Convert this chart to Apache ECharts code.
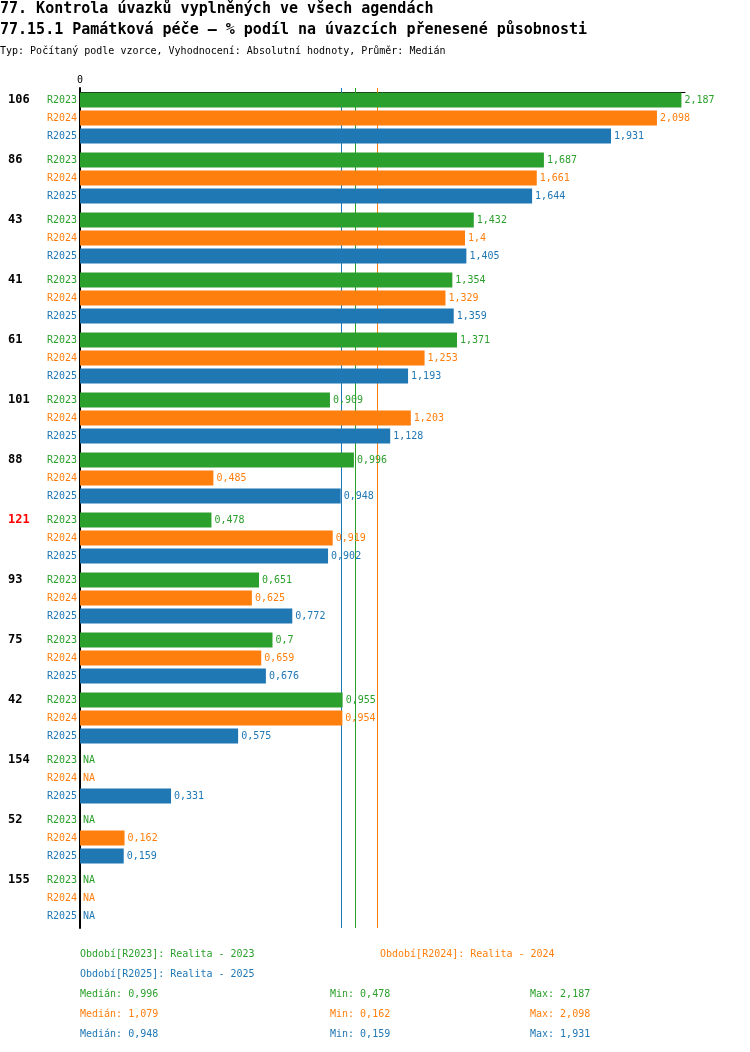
<!DOCTYPE html>
<html>
<head>
<meta charset="utf-8">
<script src="https://cdn.jsdelivr.net/npm/echarts@6/dist/echarts.min.js"></script>
<style>
  html, body { margin: 0; padding: 0; background: #fff; }
  #chart { width: 750px; height: 1052px; }
</style>
</head>
<body>
<div id="chart"></div>
<script>
// skupiny (kategorie) odshora dolu
let categories = ['106', '86', '43', '41', '61', '101', '88', '121', '93', '75', '42', '154', '52', '155'];
let highlighted = '121';
let periods = ['R2023', 'R2024', 'R2025'];
let periodNames = ['Realita - 2023', 'Realita - 2024', 'Realita - 2025'];
let colors = ['#2ca02c', '#ff7f0e', '#1f77b4'];
// hodnoty, null = NA
let r2023 = [2.187, 1.687, 1.432, 1.354, 1.371, 0.909, 0.996, 0.478, 0.651, 0.7, 0.955, null, null, null];
let r2024 = [2.098, 1.661, 1.4, 1.329, 1.253, 1.203, 0.485, 0.919, 0.625, 0.659, 0.954, null, 0.162, null];
let r2025 = [1.931, 1.644, 1.405, 1.359, 1.193, 1.128, 0.948, 0.902, 0.772, 0.676, 0.575, 0.331, 0.159, null];
let values = [r2023, r2024, r2025];
let xTicks = [0];

const MONO = '"DejaVu Sans Mono", "Liberation Mono", monospace';

function fmt(v) {
    // ceske cislo: carka misto tecky
    return String(Math.round(v * 1000) / 1000).replace('.', ',');
}
function median(arr) {
    let a = arr.filter(v => v != null).sort((x, y) => x - y);
    let m = Math.floor(a.length / 2);
    return a.length % 2 ? a[m] : (a[m - 1] + a[m]) / 2;
}
function minOf(arr) { return Math.min.apply(null, arr.filter(v => v != null)); }
function maxOf(arr) { return Math.max.apply(null, arr.filter(v => v != null)); }

let series = values.map(function (vals, i) {
    return {
        name: periods[i],
        type: 'bar',
        barWidth: 15,
        barGap: '20%',
        z: 2,
        itemStyle: { color: colors[i] },
        data: vals.map(v => v == null ? { value: 0, na: true } : v),
        label: {
            show: true,
            position: 'right',
            distance: 3,
            color: colors[i],
            fontSize: 10,
            fontFamily: MONO,
            formatter: function (p) {
                return p.data && p.data.na ? 'NA' : fmt(p.value);
            }
        },
        markLine: {
            silent: true,
            z: 1,
            symbol: 'none',
            label: { show: false },
            lineStyle: { color: colors[i], width: 1, type: 'solid' },
            data: [{ xAxis: median(vals) }]
        }
    };
});

// texty: nadpis + legenda + statistiky
let graphics = [
    { type: 'text', x: 0, y: 9, style: { text: '77. Kontrola úvazků vyplněných ve všech agendách', fill: '#000', font: 'bold 15px ' + MONO, verticalAlign: 'middle' } },
    { type: 'text', x: 0, y: 30, style: { text: '77.15.1 Památková péče – % podíl na úvazcích přenesené působnosti', fill: '#000', font: 'bold 15px ' + MONO, verticalAlign: 'middle' } },
    { type: 'text', x: 0, y: 51, style: { text: 'Typ: Počítaný podle vzorce, Vyhodnocení: Absolutní hodnoty, Průměr: Medián', fill: '#000', font: '10px ' + MONO, verticalAlign: 'middle' } }
];
let legendPos = [[80, 954], [380, 954], [80, 974]];
periods.forEach(function (p, i) {
    graphics.push({ type: 'text', x: legendPos[i][0], y: legendPos[i][1], style: { text: 'Období[' + p + ']: ' + periodNames[i], fill: colors[i], font: '10px ' + MONO, verticalAlign: 'middle' } });
    let y = 994 + i * 20;
    graphics.push({ type: 'text', x: 80, y: y, style: { text: 'Medián: ' + fmt(median(values[i])), fill: colors[i], font: '10px ' + MONO, verticalAlign: 'middle' } });
    graphics.push({ type: 'text', x: 330, y: y, style: { text: 'Min: ' + fmt(minOf(values[i])), fill: colors[i], font: '10px ' + MONO, verticalAlign: 'middle' } });
    graphics.push({ type: 'text', x: 530, y: y, style: { text: 'Max: ' + fmt(maxOf(values[i])), fill: colors[i], font: '10px ' + MONO, verticalAlign: 'middle' } });
});

let option = {
    animation: false,
    grid: { left: 80, right: 65, top: 88, height: 840, containLabel: false },
    xAxis: {
        type: 'value',
        position: 'top',
        offset: -4,
        min: 0,
        max: 2.2,
        axisLine: { show: true, lineStyle: { color: '#000', width: 1 } },
        axisTick: { show: false },
        splitLine: { show: false },
        axisLabel: {
            show: true,
            margin: 7,
            color: '#000',
            fontSize: 10,
            fontFamily: MONO,
            formatter: function (v) { return xTicks.indexOf(v) >= 0 ? String(v) : ''; }
        }
    },
    yAxis: [
        {
            type: 'category',
            inverse: true,
            data: categories,
            axisLine: { show: true, lineStyle: { color: '#000', width: 2 } },
            axisTick: { show: false },
            splitLine: { show: false },
            axisLabel: {
                interval: 0,
                margin: 3,
                align: 'right',
                fontFamily: MONO,
                fontSize: 10,
                formatter: function () {
                    return '{a|' + periods[0] + '}\n{b|' + periods[1] + '}\n{c|' + periods[2] + '}';
                },
                rich: {
                    a: { color: colors[0], fontSize: 10, fontFamily: MONO, lineHeight: 18 },
                    b: { color: colors[1], fontSize: 10, fontFamily: MONO, lineHeight: 18 },
                    c: { color: colors[2], fontSize: 10, fontFamily: MONO, lineHeight: 18 }
                }
            }
        },
        {
            type: 'category',
            inverse: true,
            position: 'left',
            data: categories,
            axisLine: { show: false },
            axisTick: { show: false },
            splitLine: { show: false },
            axisLabel: {
                interval: 0,
                margin: 72,
                align: 'left',
                formatter: function (v) {
                    return (v === highlighted ? '{r|' + v + '}' : '{n|' + v + '}') + '\n{s| }\n{s| }';
                },
                rich: {
                    n: { color: '#000', fontWeight: 'bold', fontSize: 12, fontFamily: MONO, lineHeight: 18 },
                    r: { color: '#ff0000', fontWeight: 'bold', fontSize: 12, fontFamily: MONO, lineHeight: 18 },
                    s: { fontSize: 10, lineHeight: 18 }
                }
            }
        }
    ],
    series: series,
    graphic: graphics
};

let myChart = echarts.init(document.getElementById('chart'));
myChart.setOption(option);
window.addEventListener('resize', function () {
    myChart.resize();
});
</script>
</body>
</html>
